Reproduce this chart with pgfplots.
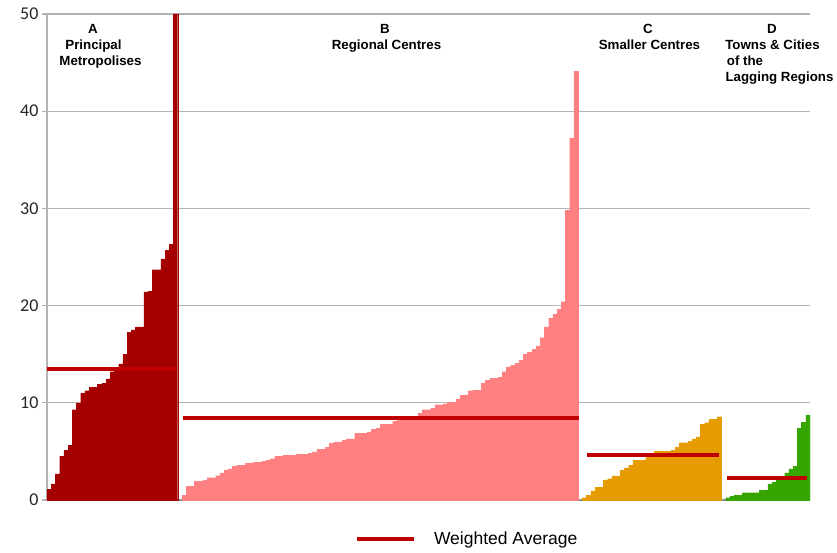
\documentclass[border=0pt]{standalone}
\usepackage{fontspec}
\setmainfont{Liberation Sans}
\newfontfamily\tickfont{Carlito}
\usepackage{pgfplots}
\usepackage{pgfplotstable}
\pgfplotsset{compat=1.18}
\definecolor{colA}{RGB}{165,0,0}
\definecolor{colB}{RGB}{255,128,128}
\definecolor{colC}{RGB}{230,155,0}
\definecolor{colD}{RGB}{54,165,0}
\definecolor{avgred}{RGB}{192,0,0}
\definecolor{gridgray}{RGB}{180,180,180}
\definecolor{axisgray}{RGB}{140,140,140}

\pgfplotstableread{
y
1.1
1.65
2.7
4.5
5.1
5.6
9.3
10.0
11.0
11.25
11.6
11.6
11.9
12.0
12.45
13.2
13.4
14.0
15.0
17.25
17.5
17.8
17.8
21.4
21.45
23.7
23.7
24.8
25.7
26.3
50
}\tabA

\pgfplotstableread{
y
0.5
1.4
1.4
1.9
1.9
2.05
2.3
2.3
2.5
2.8
3.1
3.2
3.45
3.6
3.6
3.75
3.75
3.85
3.85
4.0
4.1
4.25
4.5
4.5
4.6
4.6
4.6
4.7
4.7
4.7
4.8
4.95
5.2
5.2
5.4
5.83
5.97
5.97
6.15
6.3
6.3
6.85
6.85
6.85
7.0
7.25
7.4
7.8
7.8
7.8
8.1
8.25
8.25
8.4
8.4
8.4
8.9
9.3
9.3
9.45
9.8
9.8
9.9
10.05
10.05
10.4
10.75
10.75
11.25
11.3
11.3
12.0
12.3
12.5
12.5
12.6
13.2
13.7
13.87
14.04
14.4
15.0
15.2
15.5
15.85
16.7
17.8
18.7
19.1
19.6
20.4
29.8
37.2
44.1
}\tabB

\pgfplotstableread{
y
0.24
0.51
0.93
1.3
1.3
2.06
2.2
2.47
2.47
3.05
3.3
3.6
4.08
4.08
4.08
4.5
4.5
5.0
5.0
5.0
5.0
5.14
5.4
5.9
5.9
6.04
6.3
6.5
7.8
7.96
8.3
8.3
8.57
}\tabC

\pgfplotstableread{
y
0.24
0.38
0.51
0.51
0.75
0.75
0.75
0.75
1.0
1.0
1.65
1.82
2.1
2.45
2.8
3.2
3.46
7.37
8.0
8.75
}\tabD

\begin{document}
\begin{tikzpicture}
\begin{axis}[
  scale only axis, width=763pt, height=486pt,
  xmin=0, xmax=181, ymin=0, ymax=50,
  ytick={0,10,20,30,40,50}, xtick=\empty,
  ymajorgrids, grid style={gridgray, line width=1.2pt},
  axis x line*=bottom, axis y line*=left,
  x axis line style={axisgray, line width=2.2pt, -},
  y axis line style={gridgray, line width=1.2pt, -},
  major tick length=5pt, tick align=outside,
  tick style={gridgray, line width=1.2pt},
  /pgf/number format/assume math mode=true,
  yticklabel style={font=\tickfont\fontsize{18}{20}\selectfont, text=black!85},
  legend style={at={(rel axis cs:0.4037,-0.0802)}, anchor=west, draw=none, fill=none,
     inner sep=0pt, outer sep=0pt, nodes={inner sep=0pt, outer sep=0pt},
     font=\fontsize{17.5}{20}\selectfont},
  legend image code/.code={\draw[#1] (0pt,0pt) -- (57pt,0pt); \path (75pt,0pt);},
]
\addplot[ybar, bar width=1, bar shift=0pt, fill=colA, draw=colA, line width=0.2pt, forget plot]
  table[x expr=\coordindex+0.5, y=y]{\tabA};
\addplot[ybar, bar width=1, bar shift=0pt, fill=colB, draw=colB, line width=0.2pt, forget plot]
  table[x expr=\coordindex+32.5, y=y]{\tabB};
\addplot[ybar, bar width=1, bar shift=0pt, fill=colC, draw=colC, line width=0.2pt, forget plot]
  table[x expr=\coordindex+127.5, y=y]{\tabC};
\addplot[ybar, bar width=1, bar shift=0pt, fill=colD, draw=colD, line width=0.2pt, forget plot]
  table[x expr=\coordindex+161.5, y=y]{\tabD};

\addplot[avgred, line width=4pt] coordinates {(0.07,13.5) (30.4,13.5)};
\addlegendentry{Weighted Average}
\addplot[avgred, line width=4pt, forget plot] coordinates {(32.2,8.43) (126.1,8.43)};
\addplot[avgred, line width=4pt, forget plot] coordinates {(128.1,4.65) (159.3,4.65)};
\addplot[avgred, line width=4pt, forget plot] coordinates {(161.3,2.3) (180.3,2.3)};
\end{axis}

\begin{scope}[every node/.style={font=\bfseries\fontsize{13.3}{15}\selectfont, anchor=base, inner sep=0pt}]
\node at (46pt,466pt) {A};
\node at (46.5pt,450pt) {Principal};
\node at (53.5pt,434pt) {Metropolises};
\node at (338pt,466pt) {B};
\node at (339.5pt,450pt) {Regional Centres};
\node at (601pt,466pt) {C};
\node at (602.5pt,450pt) {Smaller Centres};
\node at (725pt,466pt) {D};
\node at (725.5pt,450pt) {Towns \& Cities};
\node at (698pt,434pt) {of the};
\node at (732.5pt,418pt) {Lagging Regions};
\end{scope}

\pgfresetboundingbox
\path[use as bounding box] (-47pt,-52pt) rectangle (790pt,500pt);
\end{tikzpicture}
\end{document}
